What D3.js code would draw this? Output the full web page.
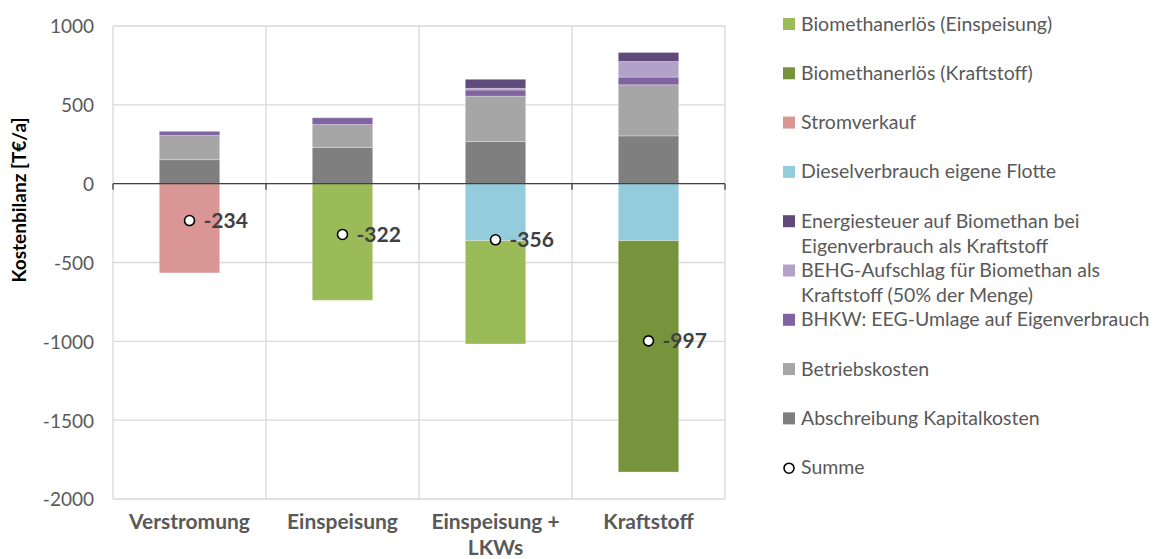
<!DOCTYPE html>
<html>
<head>
<meta charset="utf-8">
<script src="https://cdn.jsdelivr.net/npm/d3@7"></script>
<style>
  html, body { margin: 0; padding: 0; background: #fff; }
  svg { display: block; font-family: Lato, "Open Sans", sans-serif; }
</style>
</head>
<body>
<svg id="chart" width="1165" height="559"></svg>
<script>
// Szenarien (x-Achse)
const categories = ["Verstromung", "Einspeisung", "Einspeisung +\nLKWs", "Kraftstoff"];

// Kostenpositionen je Szenario [T€/a], in Stapelreihenfolge
const abschreibung     = [152, 230, 267, 303];
const betriebskosten   = [153, 145, 288, 324];
const bhkwEeg          = [27, 43, 39, 49];
const behg             = [0, 0, 11, 99];
const energiesteuer    = [0, 0, 57, 57];
const diesel           = [0, 0, -362, -362];
const stromverkauf     = [-566, 0, 0, 0];
const bioKraftstoff    = [0, 0, 0, -1467];
const bioEinspeisung   = [0, -740, -655, 0];

// Summe je Szenario
const summe = [-234, -322, -356, -997];

// Achsenbeschriftung
const yTicks = [1000, 500, 0, -500, -1000, -1500, -2000];

const seriesDefs = [
  { key: "abschreibung",   label: "Abschreibung Kapitalkosten", values: abschreibung,   color: "#7F7F7F" },
  { key: "betrieb",        label: "Betriebskosten",             values: betriebskosten, color: "#A6A6A6" },
  { key: "bhkw",           label: "BHKW: EEG-Umlage auf Eigenverbrauch", values: bhkwEeg, color: "#8064A2" },
  { key: "behg",           label: "BEHG-Aufschlag für Biomethan als\nKraftstoff (50% der Menge)", values: behg, color: "#B3A2C7" },
  { key: "energiesteuer",  label: "Energiesteuer auf Biomethan bei\nEigenverbrauch als Kraftstoff", values: energiesteuer, color: "#604A7B" },
  { key: "diesel",         label: "Dieselverbrauch eigene Flotte", values: diesel,        color: "#93CDDD" },
  { key: "strom",          label: "Stromverkauf",               values: stromverkauf,   color: "#D99694" },
  { key: "bioK",           label: "Biomethanerlös (Kraftstoff)", values: bioKraftstoff, color: "#77933C" },
  { key: "bioE",           label: "Biomethanerlös (Einspeisung)", values: bioEinspeisung, color: "#9BBB59" }
];

const rows = categories.map((c, i) => {
  const r = { cat: c };
  seriesDefs.forEach(s => r[s.key] = s.values[i]);
  return r;
});

// Zahlen mit einfachem Bindestrich als Minus, ohne Tausendertrennzeichen
const fmt = v => String(v);

const svg = d3.select("#chart");
const plot = { left: 113, right: 725, top: 26, bottom: 499 };

const x = d3.scaleBand()
  .domain(categories)
  .range([plot.left, plot.right])
  .paddingInner(0.605)
  .paddingOuter(0.3025);

const y = d3.scaleLinear()
  .domain([-2000, 1000])
  .range([plot.bottom, plot.top]);

// Gitternetz
const grid = svg.append("g");
grid.selectAll("line.h").data(yTicks).join("line")
  .attr("x1", plot.left).attr("x2", plot.right)
  .attr("y1", d => y(d)).attr("y2", d => y(d))
  .attr("stroke", "#D9D9D9").attr("stroke-width", 1.3);

const bounds = categories.map(c => x(c) - x.step() * x.paddingInner() / 2)
  .concat([plot.right]);
grid.selectAll("line.v").data(bounds).join("line")
  .attr("x1", d => d).attr("x2", d => d)
  .attr("y1", plot.top).attr("y2", plot.bottom)
  .attr("stroke", "#D9D9D9").attr("stroke-width", 1.3);

// Gestapelte Balken
const stack = d3.stack()
  .keys(seriesDefs.map(s => s.key))
  .offset(d3.stackOffsetDiverging);
const stacked = stack(rows);

svg.append("g").selectAll("g").data(stacked).join("g")
  .attr("fill", (d, i) => seriesDefs[i].color)
  .selectAll("rect").data(d => d).join("rect")
  .attr("x", d => x(d.data.cat))
  .attr("width", x.bandwidth())
  .attr("y", d => y(Math.max(d[0], d[1])))
  .attr("height", d => Math.abs(y(d[0]) - y(d[1])))
  .attr("stroke", "rgba(255,255,255,0.35)")
  .attr("stroke-width", d => Math.abs(d[1] - d[0]) > 0 ? 0.8 : 0);

// Null-Linie mit Teilstrichen
const zero = svg.append("g");
zero.append("line")
  .attr("x1", plot.left).attr("x2", plot.right)
  .attr("y1", y(0)).attr("y2", y(0))
  .attr("stroke", "#404040").attr("stroke-width", 1.3);
zero.selectAll("line.tick").data(bounds).join("line")
  .attr("x1", d => d).attr("x2", d => d)
  .attr("y1", y(0)).attr("y2", y(0) + 6)
  .attr("stroke", "#404040").attr("stroke-width", 1.3);

// y-Achse
const yAxis = d3.axisLeft(y).tickValues(yTicks).tickFormat(fmt).tickSize(0).tickPadding(0);
const yg = svg.append("g").attr("transform", `translate(94,0)`).call(yAxis);
yg.select(".domain").remove();
yg.selectAll("text")
  .attr("fill", "#595959")
  .style("font-size", "19px")
  .style("font-family", "Lato, sans-serif")
  .attr("dy", "0.36em");

svg.append("text")
  .attr("transform", "translate(26,200) rotate(-90)")
  .attr("text-anchor", "middle")
  .attr("fill", "#000")
  .style("font-size", "19px")
  .style("font-weight", "bold")
  .text("Kostenbilanz [T€/a]");

// x-Beschriftung
const xl = svg.append("g").selectAll("text").data(categories).join("text")
  .attr("x", d => x(d) + x.bandwidth() / 2)
  .attr("y", 529)
  .attr("text-anchor", "middle")
  .attr("fill", "#595959")
  .style("font-size", "21px")
  .style("font-weight", "bold");
xl.each(function(d) {
  const t = d3.select(this);
  d.split("\n").forEach((line, i) => {
    t.append("tspan")
      .attr("x", x(d) + x.bandwidth() / 2)
      .attr("dy", i === 0 ? 0 : 25.5)
      .text(line);
  });
});

// Summenpunkte mit Werten
const sums = svg.append("g");
sums.selectAll("circle").data(summe).join("circle")
  .attr("cx", (d, i) => x(categories[i]) + x.bandwidth() / 2)
  .attr("cy", d => y(d))
  .attr("r", 5)
  .attr("fill", "#fff")
  .attr("stroke", "#000")
  .attr("stroke-width", 1.6);
sums.selectAll("text").data(summe).join("text")
  .attr("x", (d, i) => x(categories[i]) + x.bandwidth() / 2 + 14)
  .attr("y", d => y(d))
  .attr("dy", "0.36em")
  .attr("fill", "#404040")
  .style("font-size", "21px")
  .style("font-weight", "bold")
  .text(fmt);

// Legende (umgekehrte Stapelreihenfolge, Summe zuletzt)
const legendItems = seriesDefs.slice().reverse().map(s => ({ label: s.label, color: s.color, type: "rect" }))
  .concat([{ label: "Summe", type: "circle" }]);

const leg = svg.append("g");
const lg = leg.selectAll("g").data(legendItems).join("g")
  .attr("transform", (d, i) => `translate(783,${30.5 + i * 49.3})`);
lg.filter(d => d.type === "rect").append("rect")
  .attr("x", 0).attr("y", -12.5).attr("width", 12).attr("height", 12)
  .attr("fill", d => d.color);
lg.filter(d => d.type === "circle").append("circle")
  .attr("cx", 6).attr("cy", -6).attr("r", 5)
  .attr("fill", "#fff").attr("stroke", "#000").attr("stroke-width", 1.6);
lg.append("text")
  .attr("x", 18)
  .attr("fill", "#595959")
  .style("font-size", "19.5px")
  .each(function(d) {
    const t = d3.select(this);
    d.label.split("\n").forEach((line, i) => {
      t.append("tspan").attr("x", 18).attr("dy", i === 0 ? 0 : 25).text(line);
    });
  });
</script>
</body>
</html>
